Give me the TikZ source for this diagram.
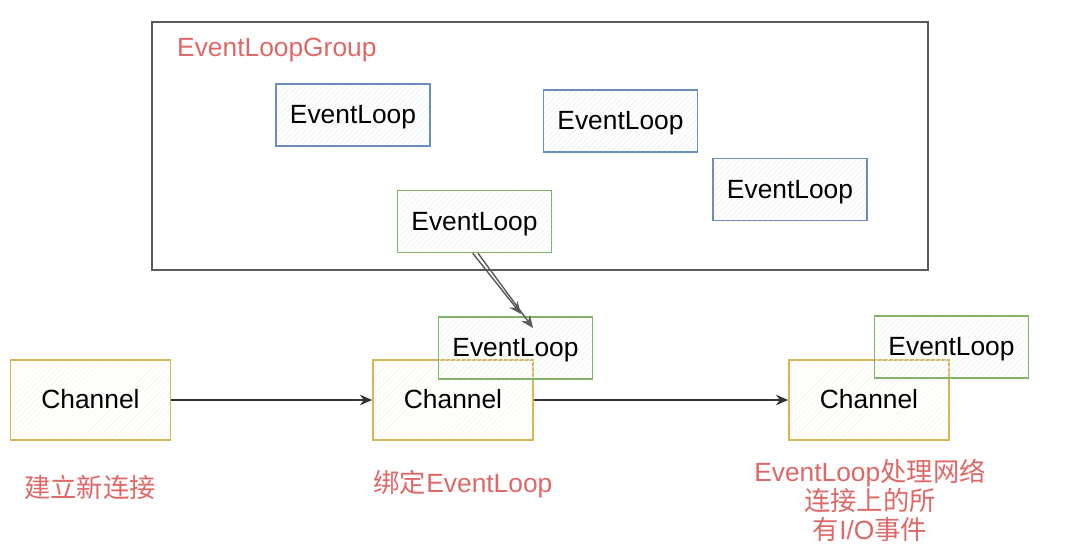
\documentclass[tikz,border=0pt]{standalone}
\usepackage{fontspec}
\setmainfont{Liberation Sans}
\newfontfamily\cjk{Noto Sans CJK SC}
\usetikzlibrary{patterns,arrows.meta}

\definecolor{loopblue}{RGB}{108,142,191}
\definecolor{loopgreen}{RGB}{130,179,102}
\definecolor{chanyellow}{RGB}{214,182,86}
\definecolor{notered}{RGB}{222,104,104}
\definecolor{framegray}{RGB}{90,90,90}

\begin{document}
\begin{tikzpicture}[font=\fontsize{15}{16.5}\selectfont,
  loop/.style={draw=loopblue,line width=0.9pt,minimum width=3.08cm,minimum height=1.24cm,
    inner sep=0pt,text height=11pt,text depth=1pt,
    pattern=north east lines,pattern color=loopblue!12},
  bound/.style={loop,draw=loopgreen,pattern color=loopgreen!12},
  chan/.style={draw=chanyellow,line width=0.9pt,minimum width=3.2cm,minimum height=1.6cm,
    inner sep=0pt,text height=11pt,text depth=1pt,
    pattern=north east lines,pattern color=chanyellow!12},
  note/.style={text=notered,align=center},
  link/.style={draw=black!80,line width=0.8pt,-{Stealth[length=7pt,width=6pt]}}]
  \useasboundingbox (0,0) rectangle (21.6,-11.04);
  % the group frame and its loops
  \draw[framegray,line width=1.2pt] (3.04,-0.44) rectangle (18.56,-5.4);
  \node[note,anchor=west] (grp) at (3.42,-1.0) {EventLoopGroup};
  \node[loop] (ela) at (7.06,-2.30) {EventLoop};
  \node[loop] (elb) at (12.41,-2.42) {EventLoop};
  \node[loop] (elc) at (15.8,-3.79) {EventLoop};
  \node[bound] (elg) at (9.49,-4.43) {EventLoop};
  % channels along the life of a connection
  \node[chan] (cha) at (1.81,-8.0) {Channel};
  \node[chan] (chb) at (9.06,-8.0) {Channel};
  \node[chan] (chc) at (17.38,-8.0) {Channel};
  \node[bound] (elx) at (10.31,-6.96) {EventLoop};
  \node[bound] (ely) at (19.03,-6.94) {EventLoop};
  % connectors (the sketchy double stroke of the binding arrow)
  \coordinate (tipa) at (10.42,-6.28);
  \coordinate (tipb) at (10.66,-6.56);
  \draw[link,black!65] ([xshift=-1pt]elg.south) -- (tipa);
  \draw[link,black!65] ([xshift=2pt]elg.south) -- (tipb);
  \draw[link] (cha) -- (chb);
  \draw[link] (chb) -- (chc);
  % captions
  \node[note] (capa) at (1.8,-9.74) {\cjk 建立新连接};
  \node[note] (capb) at (9.26,-9.68) {{\cjk 绑定}EventLoop};
  \node[note] (capc) at (17.4,-10.0) {EventLoop{\cjk 处理网络}\\{\cjk 连接上的所}\\{\cjk 有}I/O{\cjk 事件}};
\end{tikzpicture}
\end{document}
